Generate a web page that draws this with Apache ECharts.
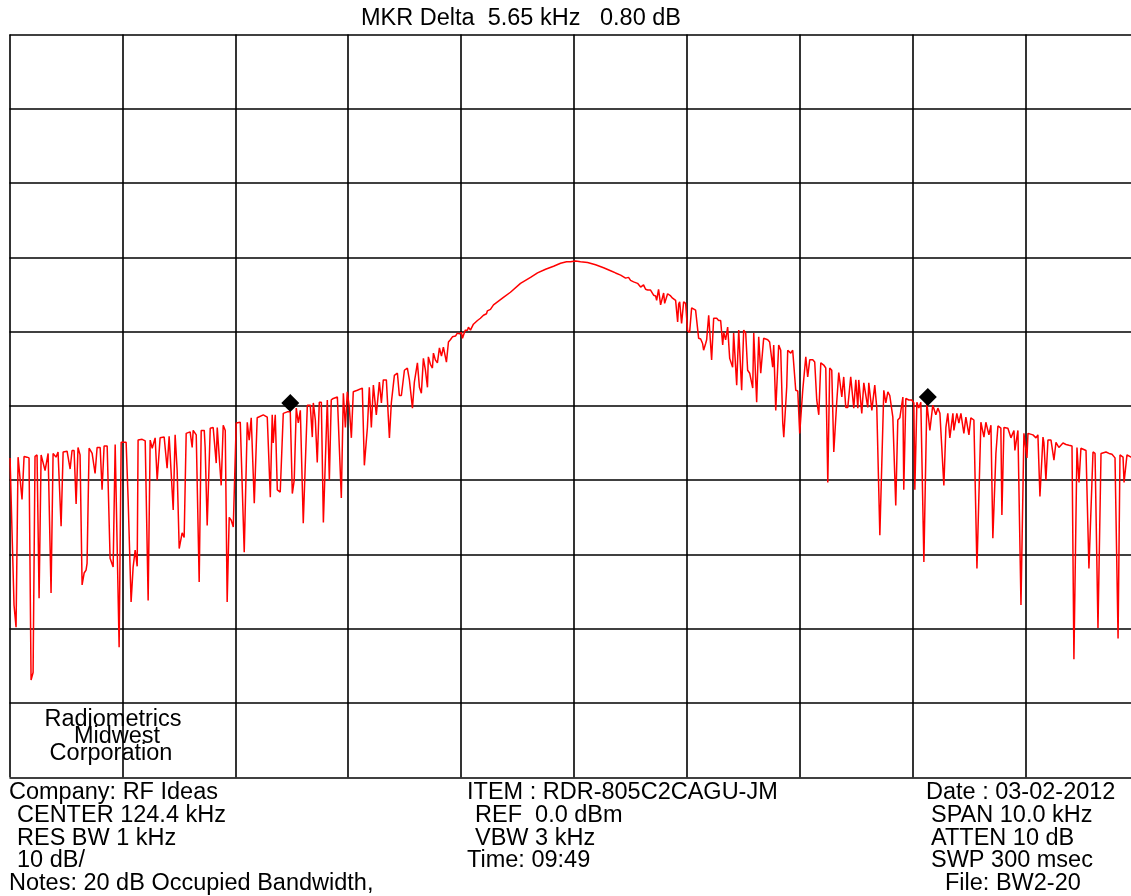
<!DOCTYPE html>
<html>
<head>
<meta charset="utf-8">
<script src="https://cdn.jsdelivr.net/npm/echarts@6/dist/echarts.min.js"></script>
<style>
html,body{margin:0;padding:0;background:#fff;overflow:hidden;width:1131px;height:896px;}
#chart{width:1145px;height:896px;}
</style>
</head>
<body>
<div id="chart"></div>
<script>
// Sweep: CENTER 124.4 kHz, SPAN 10.0 kHz (119.4 .. 129.4 kHz); REF 0.0 dBm, 10 dB/div
const freqs = [
119.405,119.422,119.440,119.458,119.476,119.493,119.511,119.529,119.555,119.573,119.591,119.609,119.626,119.644,119.662,119.680,119.697,119.715,119.742,119.768,
119.786,119.812,119.830,119.857,119.875,119.910,119.937,119.954,119.972,119.990,120.007,120.025,120.043,120.061,120.078,120.087,120.105,120.132,120.158,120.176,
120.203,120.220,120.238,120.265,120.291,120.318,120.336,120.353,120.371,120.389,120.415,120.433,120.451,120.477,120.495,120.513,120.531,120.539,120.575,120.602,
120.628,120.646,120.664,120.690,120.708,120.734,120.770,120.796,120.814,120.850,120.867,120.885,120.903,120.929,120.947,120.965,121.000,121.018,121.027,121.054,
121.080,121.098,121.125,121.133,121.151,121.178,121.204,121.231,121.240,121.275,121.293,121.311,121.328,121.346,121.364,121.382,121.408,121.444,121.479,121.506,
121.523,121.541,121.568,121.594,121.648,121.683,121.710,121.727,121.736,121.754,121.772,121.798,121.825,121.860,121.887,121.905,121.922,121.940,121.958,121.976,
122.002,122.038,122.064,122.082,122.091,122.109,122.126,122.144,122.162,122.180,122.215,122.233,122.250,122.268,122.304,122.321,122.339,122.357,122.375,122.392,
122.410,122.428,122.445,122.481,122.525,122.543,122.570,122.587,122.605,122.623,122.649,122.676,122.694,122.711,122.738,122.765,122.782,122.809,122.836,122.853,
122.871,122.898,122.924,122.942,122.969,122.986,123.013,123.031,123.048,123.066,123.084,123.102,123.110,123.128,123.146,123.155,123.172,123.190,123.208,123.226,
123.243,123.270,123.288,123.305,123.323,123.350,123.367,123.385,123.403,123.412,123.430,123.438,123.456,123.465,123.483,123.509,123.545,123.571,123.598,123.625,
123.633,123.642,123.660,123.687,123.731,123.775,123.837,123.926,124.015,124.077,124.148,124.219,124.281,124.334,124.369,124.414,124.458,124.520,124.591,124.662,
124.724,124.768,124.813,124.830,124.857,124.883,124.901,124.928,124.963,124.990,125.016,125.034,125.052,125.078,125.105,125.123,125.132,125.149,125.167,125.194,
125.203,125.229,125.256,125.273,125.300,125.318,125.327,125.336,125.353,125.371,125.389,125.406,125.424,125.442,125.477,125.504,125.522,125.539,125.548,125.566,
125.575,125.593,125.619,125.637,125.664,125.681,125.699,125.717,125.726,125.743,125.761,125.779,125.805,125.814,125.841,125.859,125.885,125.903,125.921,125.938,
125.956,125.983,125.992,126.018,126.036,126.054,126.080,126.116,126.133,126.160,126.169,126.187,126.213,126.231,126.249,126.258,126.284,126.293,126.320,126.337,
126.364,126.382,126.399,126.426,126.453,126.470,126.488,126.515,126.532,126.550,126.568,126.586,126.612,126.630,126.648,126.665,126.683,126.701,126.727,126.745,
126.772,126.789,126.807,126.825,126.851,126.878,126.896,126.914,126.922,126.949,126.967,127.002,127.011,127.038,127.064,127.082,127.109,127.144,127.162,127.180,
127.197,127.224,127.250,127.268,127.286,127.313,127.321,127.339,127.366,127.392,127.410,127.419,127.437,127.454,127.472,127.499,127.525,127.552,127.578,127.605,
127.623,127.641,127.676,127.694,127.711,127.729,127.756,127.765,127.791,127.809,127.827,127.853,127.871,127.898,127.915,127.942,127.969,128.004,128.031,128.048,
128.075,128.093,128.110,128.137,128.155,128.181,128.190,128.208,128.243,128.270,128.297,128.305,128.332,128.359,128.385,128.412,128.421,128.465,128.492,128.509,
128.527,128.554,128.562,128.580,128.598,128.625,128.651,128.669,128.695,128.731,128.758,128.784,128.811,128.828,128.855,128.873,128.890,128.935,128.961,128.997,
129.015,129.041,129.068,129.112,129.139,129.165,129.192,129.219,129.236,129.263,129.272,129.298,129.334,129.400
];
const levels = [
-57.0,-66.7,-76.8,-79.8,-56.9,-56.9,-62.6,-56.8,-56.9,-57.0,-86.9,-85.9,-56.8,-56.6,-75.9,-56.6,-56.4,-58.7,-56.4,-75.2,
-56.4,-56.9,-56.2,-66.2,-56.2,-56.1,-58.5,-56.0,-56.0,-63.2,-55.6,-56.6,-74.1,-72.5,-72.1,-71.2,-55.7,-56.4,-59.1,-55.6,
-55.6,-61.3,-55.4,-55.4,-70.5,-71.7,-55.2,-55.0,-82.5,-54.9,-54.9,-54.9,-62.7,-76.4,-71.7,-69.4,-71.6,-54.6,-54.5,-54.7,
-76.2,-54.6,-55.7,-54.3,-60.0,-54.3,-54.2,-58.4,-54.1,-64.0,-53.9,-58.7,-69.2,-67.1,-67.7,-53.7,-53.5,-55.6,-53.3,-53.9,
-73.7,-53.3,-53.3,-55.6,-66.1,-53.0,-52.9,-57.7,-52.9,-60.7,-52.6,-53.3,-76.4,-65.0,-65.4,-66.3,-52.3,-52.2,-69.7,-52.2,
-54.6,-51.6,-63.1,-51.6,-51.2,-51.5,-62.3,-51.2,-55.0,-51.2,-61.3,-61.6,-51.0,-50.8,-50.8,-61.8,-60.0,-50.3,-52.3,-50.6,
-65.8,-49.9,-49.9,-54.2,-49.6,-51.9,-57.6,-49.5,-49.5,-65.7,-49.2,-60.0,-49.2,-49.0,-48.8,-49.0,-62.4,-48.3,-52.9,-48.1,
-50.2,-54.3,-48.1,-47.9,-47.6,-58.0,-52.9,-47.5,-52.9,-47.2,-51.2,-46.8,-49.6,-46.5,-46.5,-54.3,-49.6,-45.9,-45.6,-48.6,
-48.6,-45.2,-44.9,-46.5,-50.3,-46.8,-44.2,-47.5,-48.3,-43.6,-45.2,-47.5,-43.4,-44.4,-44.9,-42.9,-43.8,-44.2,-42.2,-43.3,
-42.1,-44.1,-41.4,-41.1,-40.7,-40.6,-40.2,-40.3,-40.1,-40.9,-40.1,-39.8,-39.8,-39.4,-39.8,-39.0,-38.5,-38.2,-37.8,-37.6,
-37.2,-37.1,-37.0,-36.4,-35.9,-35.4,-34.7,-33.5,-32.7,-32.1,-31.6,-31.2,-30.8,-30.6,-30.6,-30.5,-30.6,-30.7,-31.0,-31.4,
-31.8,-32.1,-32.4,-32.5,-32.8,-32.7,-33.1,-33.3,-33.5,-34.0,-33.7,-34.3,-34.4,-34.4,-35.1,-35.2,-35.8,-34.3,-36.4,-34.8,
-36.2,-34.9,-35.2,-35.5,-35.8,-38.7,-36.3,-36.0,-38.9,-36.0,-36.2,-39.9,-40.1,-36.8,-37.1,-40.9,-41.0,-41.6,-42.5,-41.6,
-41.1,-37.8,-43.8,-38.2,-38.2,-38.5,-38.5,-41.8,-40.1,-41.1,-39.4,-43.6,-44.8,-40.2,-47.2,-39.8,-47.9,-39.8,-40.2,-45.2,
-45.6,-47.6,-40.2,-49.5,-40.7,-45.6,-40.9,-41.1,-41.4,-44.8,-41.8,-50.6,-41.8,-42.5,-52.3,-54.2,-47.5,-42.5,-42.9,-42.5,
-47.9,-48.0,-53.7,-47.9,-43.4,-46.1,-43.8,-43.8,-44.1,-49.2,-51.2,-44.2,-44.5,-44.9,-60.3,-44.9,-45.2,-56.2,-49.5,-45.5,
-48.8,-46.1,-50.2,-50.2,-46.1,-50.3,-46.5,-50.3,-46.5,-51.0,-46.9,-50.2,-46.9,-50.6,-47.2,-50.3,-67.4,-47.9,-49.6,-48.1,
-48.6,-51.5,-63.4,-51.9,-51.6,-48.8,-61.3,-49.0,-49.2,-49.2,-49.6,-61.3,-49.5,-50.3,-49.5,-71.0,-49.6,-53.3,-49.9,-51.2,
-50.3,-51.0,-60.7,-52.9,-51.0,-54.3,-51.0,-53.3,-51.0,-52.3,-51.0,-53.7,-51.5,-53.9,-51.6,-51.9,-71.9,-52.2,-54.2,-52.2,
-53.9,-52.6,-67.8,-56.4,-52.7,-53.0,-64.7,-52.9,-53.0,-54.3,-53.3,-56.0,-53.3,-76.8,-53.7,-57.0,-53.7,-53.9,-54.3,-53.9,
-62.2,-54.2,-54.9,-60.0,-54.6,-54.6,-57.3,-54.9,-55.6,-55.0,-55.2,-55.3,-55.4,-84.1,-55.6,-60.3,-55.7,-56.0,-71.9,-56.2,
-56.4,-79.9,-56.4,-56.2,-56.4,-56.5,-57.0,-81.3,-56.6,-56.9,-60.3,-56.6,-56.9,-56.8
];
// Delta markers (kHz, dBm)
const markerFreqs = [121.887, 127.534];
const markerLevels = [-49.6, -48.8];

const titleText = 'MKR Delta  5.65 kHz   0.80 dB';
const watermarkLines = ['Radiometrics', 'Midwest', 'Corporation'];
const leftLines = ['Company: RF Ideas', 'CENTER 124.4 kHz', 'RES BW 1 kHz', '10 dB/', 'Notes: 20 dB Occupied Bandwidth,'];
const midLines = ['ITEM : RDR-805C2CAGU-JM', 'REF  0.0 dBm', 'VBW 3 kHz', 'Time: 09:49'];
const rightLines = ['Date : 03-02-2012', 'SPAN 10.0 kHz', 'ATTEN 10 dB', 'SWP 300 msec', 'File: BW2-20'];

const FONT = '23.5px "Liberation Sans", Arial, sans-serif';
const chart = echarts.init(document.getElementById('chart'), null, {renderer: 'canvas'});

function txt(s, x, y, align) {
  return {type: 'text', x: x, y: y, silent: true, z: 100,
    style: {text: s, font: FONT, fill: '#000', textAlign: align || 'left', textVerticalAlign: 'middle'}};
}
const graphics = [];
graphics.push(txt(titleText, 361, 19));
const wmY = [720, 737, 754];
const wmX = [113, 117, 111];
watermarkLines.forEach((s, i) => graphics.push(txt(s, wmX[i], wmY[i], 'center')));
const leftX = [9, 17, 17, 17, 9];
const midX = [467, 475, 475, 467];
const rightX = [926, 931, 931, 931, 945];
const rowY = [793, 816, 839, 861, 884];
leftLines.forEach((s, i) => graphics.push(txt(s, leftX[i], rowY[i])));
midLines.forEach((s, i) => graphics.push(txt(s, midX[i], rowY[i])));
rightLines.forEach((s, i) => graphics.push(txt(s, rightX[i], rowY[i])));

const gridLine = {show: true, lineStyle: {color: '#000', width: 1.6}};
chart.setOption({
  backgroundColor: '#fff',
  animation: false,
  grid: {left: 9.5, top: 34.5, width: 1129, height: 742.8, containLabel: false},
  xAxis: [
    {type: 'value', min: 119.4, max: 129.4, show: true,
      axisLine: {show: false}, axisTick: {show: false}, axisLabel: {show: false}, splitLine: {show: false}},
    {type: 'value', min: 0, max: 10, interval: 1, show: true,
      axisLine: {show: false}, axisTick: {show: false}, axisLabel: {show: false},
      splitLine: Object.assign({showMinLine: true, showMaxLine: true}, gridLine)}
  ],
  yAxis: [{type: 'value', min: -100, max: 0, interval: 10,
    axisLine: {show: false}, axisTick: {show: false}, axisLabel: {show: false},
    splitLine: Object.assign({showMinLine: true, showMaxLine: true}, gridLine)}],
  series: [
    {type: 'line', xAxisIndex: 0, yAxisIndex: 0, showSymbol: false, symbol: 'none',
      data: freqs.map((f, i) => [f, levels[i]]),
      lineStyle: {color: '#ff0000', width: 1.5}, z: 5, clip: true},
    {type: 'scatter', xAxisIndex: 0, yAxisIndex: 0, symbol: 'diamond', symbolSize: [18, 18],
      data: markerFreqs.map((f, i) => [f, markerLevels[i]]),
      itemStyle: {color: '#000', opacity: 1}, z: 10}
  ],
  graphic: graphics
});
</script>
</body>
</html>
